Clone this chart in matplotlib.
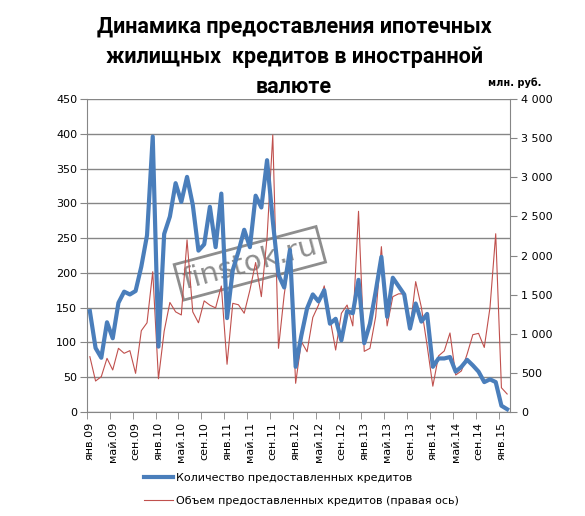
import matplotlib
matplotlib.use("Agg")
import matplotlib.pyplot as plt
from matplotlib.lines import Line2D

# Number of loans granted (left axis), monthly Jan 2009 - Feb 2015
count = [145, 92, 78, 129, 106, 157, 173, 169, 174, 209, 254, 396,
         94, 256, 281, 329, 302, 338, 298, 232, 241, 295, 237, 314,
         135, 204, 231, 262, 237, 311, 294, 362, 275, 197, 179, 233,
         65, 110, 149, 169, 159, 175, 127, 134, 103, 145, 142, 190,
         99, 127, 173, 223, 137, 193, 181, 169, 120, 156, 130, 141,
         65, 77, 77, 79, 58, 65, 75, 67, 58, 43, 47, 43,
         9, 4]

# Volume of loans granted, mln rub (right axis)
volume = [707, 396, 452, 686, 537, 814, 750, 784, 494, 1039, 1140, 1793,
          425, 1033, 1400, 1280, 1240, 2200, 1280, 1140, 1420, 1365, 1330, 1610,
          610, 1389, 1370, 1262, 1559, 1910, 1474, 2230, 3540, 814, 1500, 2000,
          367, 900, 770, 1208, 1367, 1612, 1200, 792, 1261, 1367, 1100, 2565,
          775, 814, 1218, 2113, 1100, 1474, 1510, 1510, 1050, 1666, 1335, 850,
          330, 717, 780, 1010, 473, 525, 740, 988, 1005, 825, 1335, 2278,
          310, 230]

tick_labels = ["янв.09", "май.09", "сен.09", "янв.10", "май.10", "сен.10",
               "янв.11", "май.11", "сен.11", "янв.12", "май.12", "сен.12",
               "янв.13", "май.13", "сен.13", "янв.14", "май.14", "сен.14",
               "янв.15"]
left_ticks = [0, 50, 100, 150, 200, 250, 300, 350, 400, 450]
right_ticks = [0, 500, 1000, 1500, 2000, 2500, 3000, 3500, 4000]
right_tick_labels = ["0", "500", "1 000", "1 500", "2 000", "2 500", "3 000", "3 500", "4 000"]

title = "Динамика предоставления ипотечных\nжилищных  кредитов в иностранной\nвалюте"
legend_labels = ["Количество предоставленных кредитов",
                 "Объем предоставленных кредитов (правая ось)"]

BLUE = "#4A7EBB"
RED = "#C0504D"
GRID = "#868686"

W, H = 585, 516
fig = plt.figure(figsize=(W / 100, H / 100), dpi=100)
fig.patch.set_facecolor("white")

L, R, T, B = 87, 510, 99, 412
ax = fig.add_axes([L / W, 1 - B / H, (R - L) / W, (B - T) / H])
ax2 = ax.twinx()
ax3 = ax.twinx()

n = len(count)
x = list(range(n))

# left axis + gridlines
ax.set_ylim(0, 450)
ax.set_xlim(-0.5, n - 0.5)
ax.set_yticks(left_ticks)
ax.yaxis.grid(True, color=GRID, lw=1.0)
ax.set_axisbelow(True)
ax.tick_params(axis="y", length=5, color=GRID, labelsize=8, pad=2, direction="out")
ax.set_xticks(range(0, n, 4))
ax.set_xticklabels(tick_labels, rotation=90, fontsize=8)
ax.set_xticks([i - 0.5 for i in range(0, n + 1, 4)], minor=True)
ax.tick_params(axis="x", which="major", length=0, pad=7)
ax.tick_params(axis="x", which="minor", length=5, color=GRID, direction="out")
for s in ["top", "right"]:
    ax.spines[s].set_visible(False)
for s in ["left", "bottom"]:
    ax.spines[s].set_color(GRID)

# right axis: volume
ax2.plot(x, volume, color=RED, lw=0.8)
ax2.set_ylim(0, 4000)
ax2.set_yticks(right_ticks)
ax2.set_yticklabels(right_tick_labels)
ax2.tick_params(axis="y", length=5, color=GRID, labelsize=8, pad=3, direction="out")
for s in ["top", "left", "bottom"]:
    ax2.spines[s].set_visible(False)
ax2.spines["right"].set_color(GRID)

# top layer: count (blue), same scale as left axis
ax3.plot(x, count, color=BLUE, lw=3.0, solid_joinstyle="round")
ax3.set_ylim(0, 450)
ax3.set_yticks([])
for s in ax3.spines.values():
    s.set_visible(False)

# title and unit label
fig.text(294 / W, 1 - 16 / H, title, ha="center", va="top", fontsize=15.5,
         fontweight="bold", family="Roboto", linespacing=1.47)
fig.text(541 / W, 1 - 83 / H, "млн. руб.", ha="right", va="center",
         fontsize=7, fontweight="bold")

# watermark
ax.text(0.385, 0.475, "finstok.ru", transform=ax.transAxes, rotation=15,
        ha="center", va="center", fontsize=21, color="#7a7a7a", alpha=0.85,
        zorder=10)
ax.text(0.385, 0.475, "finstok.ru", transform=ax.transAxes, rotation=15,
        ha="center", va="center", fontsize=21, color="none",
        zorder=10,
        bbox=dict(boxstyle="square,pad=0.15", facecolor="none",
                  edgecolor="#7a7a7a", lw=2.0, alpha=0.85))

handles = [Line2D([], [], color=BLUE, lw=3.0), Line2D([], [], color=RED, lw=0.8)]
fig.legend(handles, legend_labels, loc="upper left",
           bbox_to_anchor=(144 / W, 1 - 473 / H), frameon=False,
           fontsize=8, handlelength=2.6, handletextpad=0.25,
           labelspacing=1.15, borderpad=0, borderaxespad=0)

fig.savefig("out.png", dpi=100)
